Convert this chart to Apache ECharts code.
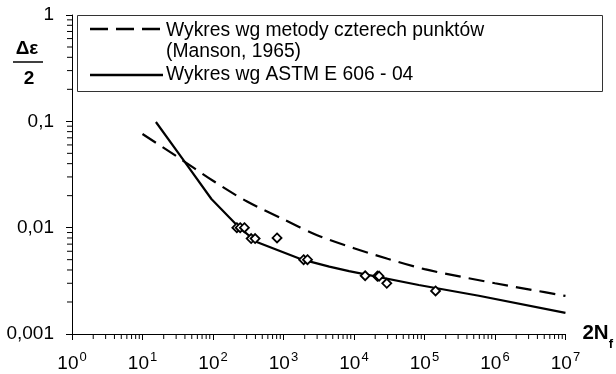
<!DOCTYPE html>
<html>
<head>
<meta charset="utf-8">
<script src="https://cdn.jsdelivr.net/npm/echarts@6/dist/echarts.min.js"></script>
<style>
  html, body { margin: 0; padding: 0; background: #fff; }
  #chart { width: 616px; height: 374px; }
</style>
</head>
<body>
<div id="chart"></div>
<script>
// Strain amplitude vs. reversals to failure (log-log)
const mansonN      = [10, 30, 100, 300, 1000, 3000, 10000, 30000, 100000, 300000, 1000000, 3000000, 10000000];
const mansonStrain = [0.076, 0.0472, 0.0276, 0.0177, 0.0120, 0.0085, 0.0064, 0.0051, 0.00407, 0.0035, 0.0030, 0.00263, 0.00228];

const astmN      = [15.5, 40, 95, 224, 417, 1862, 4467, 8511, 83000, 590000, 10000000];
const astmStrain = [0.0986, 0.0413, 0.0186, 0.01035, 0.00733, 0.0050, 0.0043, 0.0039, 0.00289, 0.00229, 0.00158];

const testN      = [218, 243, 279, 348, 396, 810, 1930, 2190, 14400, 21500, 22700, 29200, 143600];
const testStrain = [0.0100, 0.0100, 0.0100, 0.0079, 0.0079, 0.0080, 0.0050, 0.0050, 0.00353, 0.0035, 0.0035, 0.0030, 0.00254];

const xDecades = [0, 1, 2, 3, 4, 5, 6, 7];
const yDecades = [-3, -2, -1, 0];

const legendNames = ['Wykres wg metody czterech punktów', '(Manson, 1965)', 'Wykres wg ASTM E 606 - 04'];

const X_MIN = 1, X_MAX = 1e7, Y_MIN = 0.001, Y_MAX = 1;
const FONT = '"Liberation Sans", Arial, sans-serif';

// minor tick positions 2..9 inside every decade
const xMinor = [];
for (let i = 0; i < xDecades.length - 1; i++) {
  for (let k = 2; k <= 9; k++) xMinor.push([k * Math.pow(10, xDecades[i]), Y_MIN]);
}
const yMinor = [];
for (let i = 0; i < yDecades.length - 1; i++) {
  for (let k = 2; k <= 9; k++) yMinor.push([X_MIN, k * Math.pow(10, yDecades[i])]);
}

const zip = (a, b) => a.map((v, i) => [v, b[i]]);

const chart = echarts.init(document.getElementById('chart'), null, { renderer: 'canvas' });

chart.setOption({
  animation: false,
  backgroundColor: '#fff',
  grid: { left: 72, right: 49, top: 15, bottom: 40, containLabel: false },
  xAxis: {
    type: 'log', logBase: 10, min: X_MIN, max: X_MAX,
    axisLine: { lineStyle: { color: '#000', width: 1 } },
    axisTick: { show: true, length: 6, inside: false, lineStyle: { color: '#000' } },
    splitLine: { show: false },
    axisLabel: {
      margin: 17,
      color: '#000',
      formatter: v => '{b|10}{s|' + Math.round(Math.log10(v)) + '}',
      rich: {
        b: { fontFamily: FONT, fontSize: 19, color: '#000', verticalAlign: 'bottom', lineHeight: 22 },
        s: { fontFamily: FONT, fontSize: 13, color: '#000', verticalAlign: 'top', lineHeight: 22, padding: [0, 0, 0, 1] }
      }
    },
    name: '{a|2N}{f|f}',
    nameLocation: 'end',
    nameGap: 17,
    nameTextStyle: {
      rich: {
        a: { fontFamily: FONT, fontSize: 20.5, fontWeight: 'bold', color: '#000', verticalAlign: 'top', lineHeight: 22 },
        f: { fontFamily: FONT, fontSize: 13, fontWeight: 'bold', color: '#000', verticalAlign: 'bottom', lineHeight: 22, padding: [0, 0, -6, 0] }
      }
    }
  },
  yAxis: {
    type: 'log', logBase: 10, min: Y_MIN, max: Y_MAX,
    axisLine: { lineStyle: { color: '#000', width: 1 } },
    axisTick: { show: true, length: 6, inside: false, lineStyle: { color: '#000' } },
    splitLine: { show: false },
    axisLabel: {
      margin: 18,
      color: '#000',
      fontFamily: FONT,
      fontSize: 19,
      formatter: v => {
        const e = Math.round(Math.log10(v));
        return (e >= 0 ? String(Math.pow(10, e)) : Math.pow(10, e).toFixed(-e)).replace('.', ',');
      }
    }
  },
  series: [
    {
      name: legendNames[0],
      type: 'line',
      data: zip(mansonN, mansonStrain),
      symbol: 'none',
      smooth: 0.3,
      lineStyle: { color: '#000', width: 2.2, type: [16, 8] },
      z: 3
    },
    {
      name: legendNames[2],
      type: 'line',
      data: zip(astmN, astmStrain),
      symbol: 'none',
      smooth: false,
      lineStyle: { color: '#000', width: 2.2, type: 'solid' },
      z: 3
    },
    {
      name: 'Badania',
      type: 'scatter',
      data: zip(testN, testStrain),
      symbol: 'diamond',
      symbolSize: [9, 9],
      itemStyle: { color: '#fff', borderColor: '#000', borderWidth: 1.8, opacity: 1 },
      z: 4
    },
    {
      name: 'xMinorTicks',
      type: 'custom',
      data: xMinor,
      silent: true,
      renderItem: (params, api) => {
        const p = api.coord([api.value(0), api.value(1)]);
        return { type: 'line', shape: { x1: p[0], y1: p[1], x2: p[0], y2: p[1] + 5 }, style: { stroke: '#000', lineWidth: 1 } };
      }
    },
    {
      name: 'yMinorTicks',
      type: 'custom',
      data: yMinor,
      silent: true,
      renderItem: (params, api) => {
        const p = api.coord([api.value(0), api.value(1)]);
        return { type: 'line', shape: { x1: p[0], y1: p[1], x2: p[0] - 5, y2: p[1] }, style: { stroke: '#000', lineWidth: 1 } };
      }
    }
  ],
  graphic: [
    // y-axis title: Δε / 2
    { type: 'text', x: 27, y: 49, style: { text: 'Δε', fontFamily: FONT, fontSize: 19, fontWeight: 'bold', fill: '#000', align: 'center', verticalAlign: 'middle' } },
    { type: 'line', shape: { x1: 13, y1: 62, x2: 43, y2: 62 }, style: { stroke: '#000', lineWidth: 1.5 } },
    { type: 'text', x: 29, y: 79, style: { text: '2', fontFamily: FONT, fontSize: 19, fontWeight: 'bold', fill: '#000', align: 'center', verticalAlign: 'middle' } },
    // legend box
    {
      type: 'group', z: 10,
      children: [
        { type: 'rect', shape: { x: 77.5, y: 15.5, width: 525, height: 76 }, style: { fill: '#fff', stroke: '#333', lineWidth: 1 } },
        { type: 'line', shape: { x1: 90, y1: 29, x2: 161, y2: 29 }, style: { stroke: '#000', lineWidth: 2.5, lineDash: [18, 8] } },
        { type: 'line', shape: { x1: 90, y1: 75, x2: 163, y2: 75 }, style: { stroke: '#000', lineWidth: 2.5 } },
        { type: 'text', x: 166, y: 31, style: { text: legendNames[0], fontFamily: FONT, fontSize: 19.3, fill: '#000', verticalAlign: 'middle' } },
        { type: 'text', x: 166, y: 52, style: { text: legendNames[1], fontFamily: FONT, fontSize: 19.3, fill: '#000', verticalAlign: 'middle' } },
        { type: 'text', x: 166, y: 75, style: { text: legendNames[2], fontFamily: FONT, fontSize: 19.3, fill: '#000', verticalAlign: 'middle' } }
      ]
    }
  ]
});
</script>
</body>
</html>
